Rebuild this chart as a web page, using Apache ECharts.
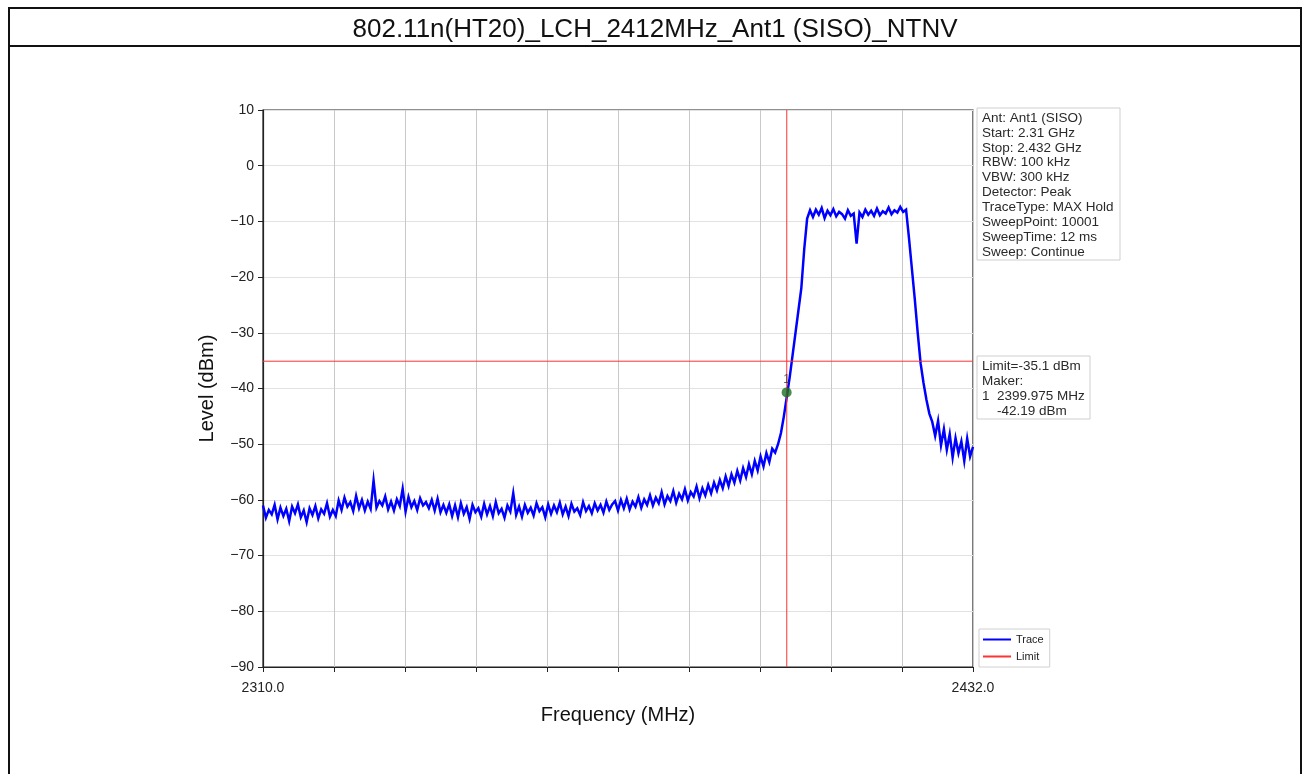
<!DOCTYPE html>
<html>
<head>
<meta charset="utf-8">
<script src="https://cdn.jsdelivr.net/npm/echarts@6/dist/echarts.min.js"></script>
<style>
html,body{margin:0;padding:0;background:#fff;}
#chart{width:1310px;height:774px;}
</style>
</head>
<body>
<div id="chart"></div>
<script>
const chartTitle = '802.11n(HT20)_LCH_2412MHz_Ant1 (SISO)_NTNV';
const freqStart = 2310.0;
const freqStop = 2432.0;
const freqStep = 0.5;
const levelMin = -90;
const levelMax = 10;
const limitLevel = -35.1;
const markerFreq = 2399.975;
const markerLevelDrawn = -40.7;
const markerLineFreq = 2400.0;
const infoLines = ['Ant: Ant1 (SISO)','Start: 2.31 GHz','Stop: 2.432 GHz','RBW: 100 kHz','VBW: 300 kHz','Detector: Peak','TraceType: MAX Hold','SweepPoint: 10001','SweepTime: 12 ms','Sweep: Continue'];
const markerLines = ['Limit=-35.1 dBm','Maker:','1  2399.975 MHz','    -42.19 dBm'];
const legendNames = ['Trace','Limit'];

// trace levels (dBm), one every 0.5 MHz from 2310.0 to 2432.0
const levelsA = [-61.0,-63.2,-61.8,-62.6,-60.9,-63.5,-61.4,-62.9,-61.6,-63.8,
  -61.2,-62.4,-60.8,-63.1,-61.9,-64.0,-61.5,-62.7,-61.1,-63.3,
  -61.7,-62.5,-60.6,-63.0,-61.8,-62.9];
const levelsB = [-60.1,-61.8,-59.6,-61.2,-60.4,-62.0,-59.3,-61.5,-60.0,-61.9,
  -60.3,-61.6,-56.5,-61.4,-60.2,-61.0,-59.4,-61.7,-60.3,-61.9,
  -59.9,-61.1,-58.0,-62.1,-59.5,-61.3,-60.2,-61.8,-59.7,-61.0,
  -60.4,-61.5,-60.0,-61.9,-59.8,-62.2,-60.9];
const levelsC = [-62.3,-60.8,-62.9,-61.0,-63.1,-60.6,-62.5,-61.3,-63.4,-60.9,
  -62.2,-61.5,-63.0,-60.7,-62.6,-61.1,-62.9,-60.4,-62.4,-61.6,
  -63.2,-61.0,-62.1,-58.8,-62.7,-61.2,-63.0,-60.9,-62.3,-61.4,
  -62.8,-60.6,-62.0,-61.3,-63.1,-60.8,-62.5,-61.0,-62.2,-60.5,
  -62.6,-61.2,-62.9,-60.7,-62.1,-61.5,-62.7,-60.4,-62.0,-61.1,
  -62.4,-60.6,-61.9,-60.9,-62.3,-60.3,-61.8,-60.8];
const levelsD = [-60.2,-61.9,-60.0,-61.5,-59.8,-61.7,-60.3,-61.2,-59.5,-61.4,
  -59.9,-60.9,-59.2,-61.0,-59.6,-60.6,-58.6,-60.8,-59.3,-60.2,
  -58.4,-60.5,-58.9,-59.9,-58.1,-60.1,-58.6,-59.4,-57.6,-59.7];
const levelsE = [-57.9,-59.2,-57.3,-58.8,-56.9,-58.3,-56.4,-57.9,-55.8,-57.5,
  -55.4,-56.9,-54.8,-56.5,-54.3,-55.9,-53.6,-55.4,-53.0,-54.7,
  -52.2,-54.0,-51.6,-53.2,-50.8,-51.5];
const levelsRise = [-50.0,-48.0,-45.0,-41.5,-38.0,-34.0,-30.0,-26.0,-22.0,-15.0,-9.5,-8.0];
const levelsTop = [-9.2,-7.9,-8.8,-7.6,-9.4,-8.1,-8.9,-7.8,-9.1,-8.3,
  -8.7,-9.5,-8.0,-9.0,-8.6,-14.0,-8.4,-9.2,-7.9,-8.8,
  -8.1,-9.0,-7.7,-8.9,-8.2,-8.6,-7.5,-8.7,-8.0,-8.4,
  -7.4,-8.3,-7.9];
const levelsFall = [-13.0,-18.5,-24.0,-30.0,-35.5,-39.0,-42.0,-44.5];
const levelsTail = [-46.0,-48.5,-45.8,-50.2,-47.3,-51.0,-48.2,-52.4,-48.9,-51.6,-49.5,-53.0,-49.0,-52.2,-50.5];

const levels = [].concat(levelsA, levelsB, levelsC, levelsD, levelsE, levelsRise, levelsTop, levelsFall, levelsTail);
const traceData = levels.map((v, i) => [freqStart + i * freqStep, v]);

const chart = echarts.init(document.getElementById('chart'), null, {renderer: 'canvas'});
const FONT = 'Liberation Sans, Arial, sans-serif';
const minus = v => String(v).replace('-', '\u2212');

const G = {left: 263, top: 110, right: 337, bottom: 107};

function infoBox(x, y, w, h, lines, lh) {
  const children = [{
    type: 'rect', shape: {x: 0, y: 0, width: w, height: h},
    style: {fill: '#fff', stroke: '#cfcfcf', lineWidth: 1}
  }];
  lines.forEach((t, i) => {
    children.push({
      type: 'text', x: 5, y: 3 + i * lh,
      style: {text: t, fill: '#2a2a2a', font: '13.5px ' + FONT, textVerticalAlign: 'top'}
    });
  });
  return {type: 'group', x: x, y: y, z: 100, children: children};
}

const option = {
  backgroundColor: '#fff',
  animation: false,
  title: {
    text: chartTitle, left: 'center', top: 12,
    textStyle: {fontFamily: FONT, fontSize: 26, fontWeight: 'normal', color: '#111'}
  },
  grid: {left: G.left, top: G.top, right: G.right, bottom: G.bottom, show: true, borderColor: '#222', borderWidth: 1.2, backgroundColor: 'transparent'},
  legend: {
    data: legendNames, orient: 'vertical', left: 979, top: 629,
    itemWidth: 28, itemHeight: 2, itemGap: 6, icon: 'rect',
    borderColor: '#d0d0d0', borderWidth: 1, padding: [5, 6, 5, 4],
    textStyle: {fontFamily: FONT, fontSize: 11, color: '#222'}
  },
  xAxis: [{
    type: 'value', min: freqStart, max: freqStop, interval: freqStop - freqStart,
    name: 'Frequency (MHz)', nameLocation: 'middle', nameGap: 38,
    nameTextStyle: {fontFamily: FONT, fontSize: 20, color: '#111'},
    axisLine: {show: true, onZero: false, lineStyle: {color: '#222', width: 1.2}},
    axisTick: {show: false},
    splitLine: {show: false},
    axisLabel: {fontFamily: FONT, fontSize: 14, color: '#222', margin: 14, formatter: v => v.toFixed(1)}
  }, {
    type: 'value', min: 0, max: 10, interval: 1, position: 'bottom',
    axisLine: {show: false, onZero: false},
    axisTick: {show: true, length: 5, lineStyle: {color: '#222'}},
    axisLabel: {show: false},
    splitLine: {show: true, lineStyle: {color: '#c8c8c8', width: 1}}
  }],
  yAxis: {
    type: 'value', min: levelMin, max: levelMax, interval: 10,
    name: 'Level (dBm)', nameLocation: 'middle', nameGap: 46,
    nameTextStyle: {fontFamily: FONT, fontSize: 20, color: '#111'},
    axisLine: {show: true, onZero: false, lineStyle: {color: '#222', width: 1.2}},
    axisTick: {show: true, length: 5, lineStyle: {color: '#222'}},
    axisLabel: {fontFamily: FONT, fontSize: 14, color: '#222', margin: 9, formatter: minus},
    splitLine: {show: true, lineStyle: {color: '#e2e2e2', width: 1}}
  },
  series: [{
    name: 'Trace', type: 'line', data: traceData, showSymbol: false, symbol: 'none',
    lineStyle: {color: '#0000ff', width: 2.5, join: 'miter'}, itemStyle: {color: '#0000ff'}, z: 3
  }, {
    name: 'Limit', type: 'line', data: [[freqStart, limitLevel], [freqStop, limitLevel]],
    showSymbol: false, symbol: 'none',
    lineStyle: {color: '#ff3333', width: 1}, itemStyle: {color: '#ff3333'}, z: 4
  }, {
    name: 'MarkerLine', type: 'line', data: [[markerLineFreq, levelMin], [markerLineFreq, levelMax]],
    showSymbol: false, symbol: 'none',
    lineStyle: {color: '#ff3333', width: 1}, itemStyle: {color: '#ff3333'}, z: 4
  }, {
    name: 'Marker', type: 'scatter', data: [[markerFreq, markerLevelDrawn]],
    symbolSize: 10, itemStyle: {color: '#1e6e1e'}, z: 6,
    label: {show: true, formatter: '1', position: 'top', distance: 2, color: '#333', fontFamily: FONT, fontSize: 12}
  }],
  graphic: [
    {type: 'rect', shape: {x: 8, y: 7, width: 1294, height: 2}, style: {fill: '#111'}, z: 50},
    {type: 'rect', shape: {x: 8, y: 45, width: 1294, height: 2}, style: {fill: '#111'}, z: 50},
    {type: 'rect', shape: {x: 8, y: 7, width: 2, height: 767}, style: {fill: '#111'}, z: 50},
    {type: 'rect', shape: {x: 1300, y: 7, width: 2, height: 767}, style: {fill: '#111'}, z: 50},
    infoBox(977, 108, 143, 152, infoLines, 14.9),
    infoBox(977, 356, 113, 63, markerLines, 15)
  ]
};
chart.setOption(option);
</script>
</body>
</html>
